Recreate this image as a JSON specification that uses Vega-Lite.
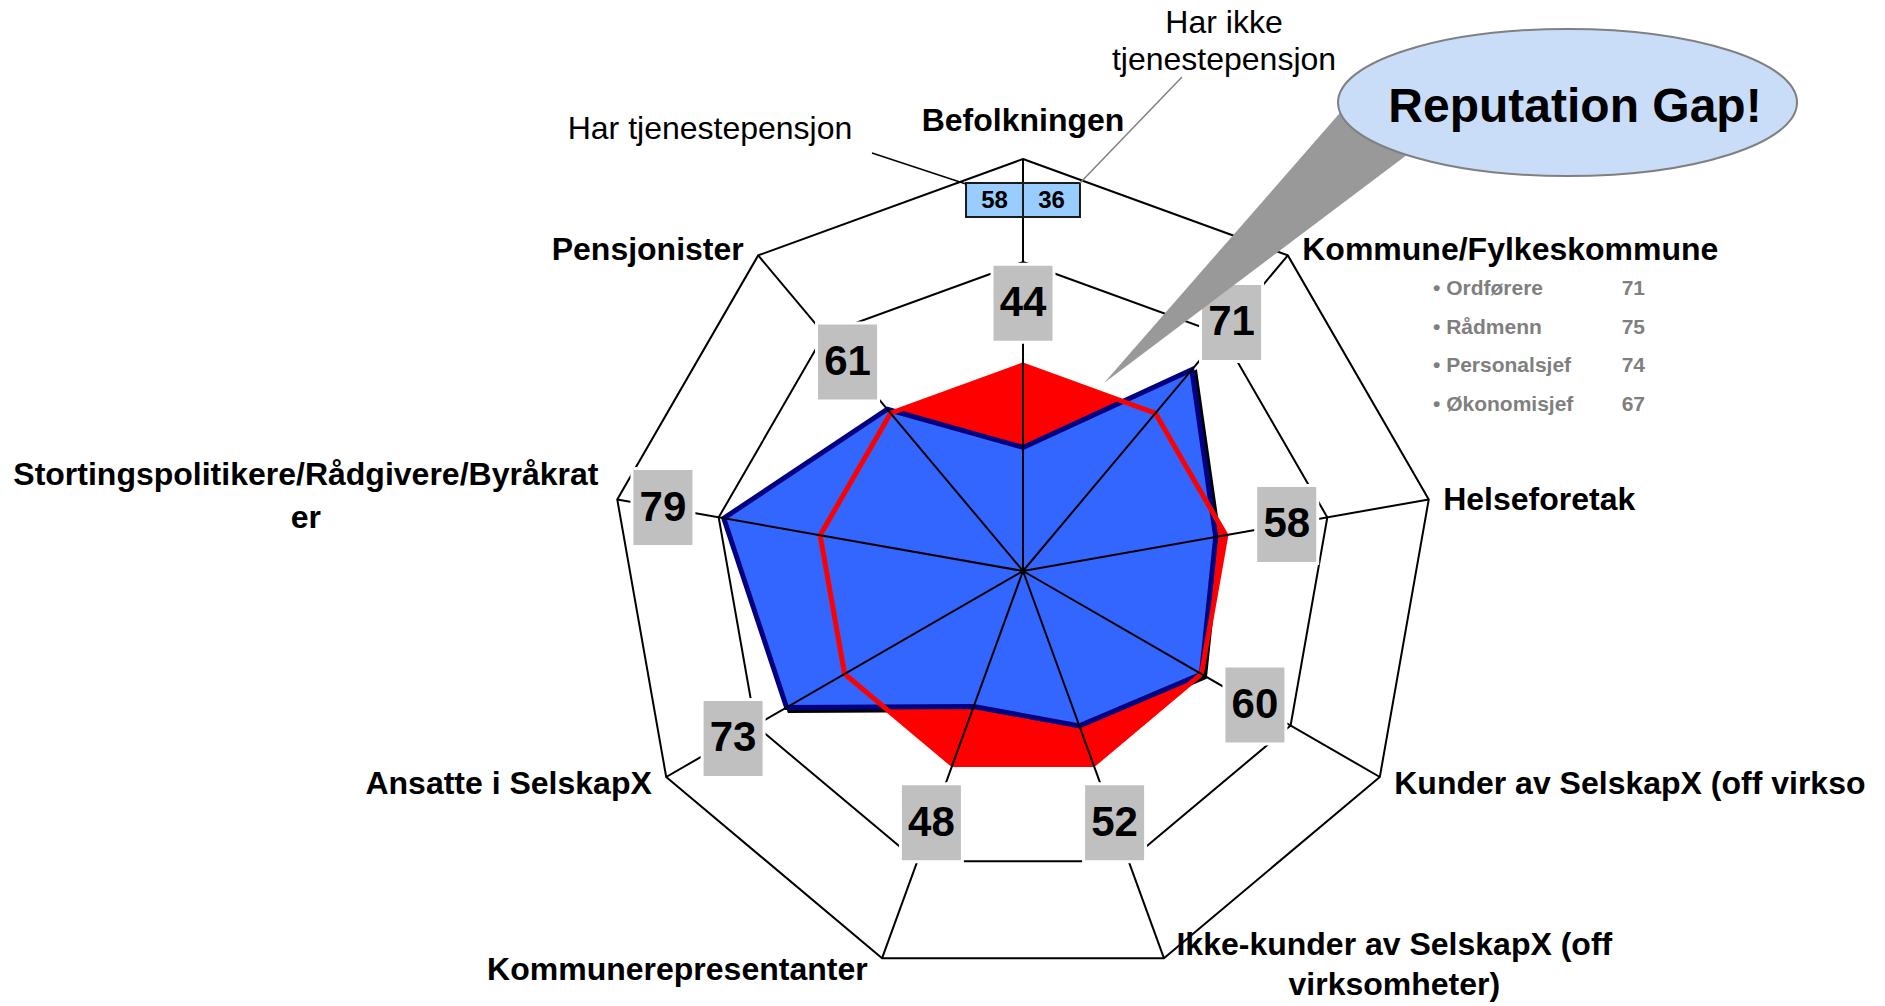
{
  "$schema": "https://vega.github.io/schema/vega-lite/v6.json",
  "width": 1885,
  "height": 1006,
  "padding": 0,
  "autosize": {"type": "none"},
  "background": "white",
  "config": {"view": {"stroke": null}},
  "data": {"values": [
    {"idx": 0, "category": "Befolkningen", "label": "Befolkningen", "value": 44, "benchmark": 60},
    {"idx": 1, "category": "Kommune/Fylkeskommune", "label": "Kommune/Fylkeskommune", "value": 71, "benchmark": 60},
    {"idx": 2, "category": "Helseforetak", "label": "Helseforetak", "value": 58, "benchmark": 60},
    {"idx": 3, "category": "Kunder av SelskapX (off virksomheter)", "label": "Kunder av SelskapX (off virkso", "value": 60, "benchmark": 60},
    {"idx": 4, "category": "Ikke-kunder av SelskapX (off virksomheter)", "label": "Ikke-kunder av SelskapX (off\nvirksomheter)", "value": 52, "benchmark": 60},
    {"idx": 5, "category": "Kommunerepresentanter", "label": "Kommunerepresentanter", "value": 48, "benchmark": 60},
    {"idx": 6, "category": "Ansatte i SelskapX", "label": "Ansatte i SelskapX", "value": 73, "benchmark": 60},
    {"idx": 7, "category": "Stortingspolitikere/Rådgivere/Byråkrater", "label": "Stortingspolitikere/Rådgivere/Byråkrat\ner", "value": 79, "benchmark": 60},
    {"idx": 8, "category": "Pensjonister", "label": "Pensjonister", "value": 61, "benchmark": 60}
  ]},
  "transform": [
    {"calculate": "datum.idx * 2 * PI / 9", "as": "a"},
    {"calculate": "(datum.value - 20) / 80", "as": "rb"},
    {"calculate": "(datum.benchmark - 20) / 80", "as": "rr"},
    {"calculate": "datum.rb * sin(datum.a)", "as": "xb"},
    {"calculate": "datum.rb * cos(datum.a)", "as": "yb"},
    {"calculate": "datum.xb + 0.0075", "as": "xs"},
    {"calculate": "datum.yb - 0.0075", "as": "ys"},
    {"calculate": "datum.rr * sin(datum.a)", "as": "xr"},
    {"calculate": "datum.rr * cos(datum.a)", "as": "yr"},
    {"calculate": "sin(datum.a)", "as": "xo"},
    {"calculate": "cos(datum.a)", "as": "yo"},
    {"calculate": "max(datum.rb, datum.rr) + 0.15", "as": "rl"},
    {"calculate": "datum.rl * sin(datum.a)", "as": "xl"},
    {"calculate": "datum.rl * cos(datum.a)", "as": "yl"},
    {"calculate": "datum.xo + (datum.xo > 0.1 ? 0.035 : (datum.xo < -0.1 ? -0.035 : 0))", "as": "lx"},
    {"calculate": "datum.yo + (datum.idx == 0 ? 0.068 : 0.024 * datum.yo - 0.006)", "as": "ly"}
  ],
  "layer": [
    {
      "data": {"values": [
        {"level": 80, "idx": 0}, {"level": 80, "idx": 1}, {"level": 80, "idx": 2}, {"level": 80, "idx": 3}, {"level": 80, "idx": 4}, {"level": 80, "idx": 5}, {"level": 80, "idx": 6}, {"level": 80, "idx": 7}, {"level": 80, "idx": 8},
        {"level": 100, "idx": 0}, {"level": 100, "idx": 1}, {"level": 100, "idx": 2}, {"level": 100, "idx": 3}, {"level": 100, "idx": 4}, {"level": 100, "idx": 5}, {"level": 100, "idx": 6}, {"level": 100, "idx": 7}, {"level": 100, "idx": 8}
      ]},
      "transform": [
        {"calculate": "datum.idx * 2 * PI / 9", "as": "a"},
        {"calculate": "(datum.level - 20) / 80", "as": "r"},
        {"calculate": "datum.r * sin(datum.a)", "as": "gx"},
        {"calculate": "datum.r * cos(datum.a)", "as": "gy"}
      ],
      "mark": {"type": "line", "interpolate": "linear-closed", "stroke": "black", "strokeWidth": 2},
      "encoding": {
        "x": {"field": "gx", "type": "quantitative", "scale": {"type": "linear", "domain": [-2.483, 2.0922], "zero": false, "nice": false}, "axis": null},
        "y": {"field": "gy", "type": "quantitative", "scale": {"type": "linear", "domain": [-1.0558, 1.3859], "zero": false, "nice": false}, "axis": null},
        "detail": {"field": "level", "type": "nominal"},
        "order": {"field": "idx", "type": "quantitative"}
      }
    },
    {
      "mark": {"type": "line", "interpolate": "linear-closed", "stroke": "black", "strokeWidth": 5},
      "encoding": {
        "x": {"field": "xs", "type": "quantitative", "scale": {"type": "linear", "domain": [-2.483, 2.0922], "zero": false, "nice": false}, "axis": null},
        "y": {"field": "ys", "type": "quantitative", "scale": {"type": "linear", "domain": [-1.0558, 1.3859], "zero": false, "nice": false}, "axis": null},
        "order": {"field": "idx", "type": "quantitative"}
      }
    },
    {
      "mark": {"type": "line", "interpolate": "linear-closed", "filled": true, "fill": "#FF0000", "stroke": "#FF0000", "strokeWidth": 1},
      "encoding": {
        "x": {"field": "xr", "type": "quantitative", "scale": {"type": "linear", "domain": [-2.483, 2.0922], "zero": false, "nice": false}, "axis": null},
        "y": {"field": "yr", "type": "quantitative", "scale": {"type": "linear", "domain": [-1.0558, 1.3859], "zero": false, "nice": false}, "axis": null},
        "order": {"field": "idx", "type": "quantitative"}
      }
    },
    {
      "mark": {"type": "line", "interpolate": "linear-closed", "filled": true, "fill": "#3366FF", "stroke": "#000080", "strokeWidth": 5},
      "encoding": {
        "x": {"field": "xb", "type": "quantitative", "scale": {"type": "linear", "domain": [-2.483, 2.0922], "zero": false, "nice": false}, "axis": null},
        "y": {"field": "yb", "type": "quantitative", "scale": {"type": "linear", "domain": [-1.0558, 1.3859], "zero": false, "nice": false}, "axis": null},
        "order": {"field": "idx", "type": "quantitative"}
      }
    },
    {
      "mark": {"type": "line", "interpolate": "linear-closed", "stroke": "#FF0000", "strokeWidth": 5},
      "encoding": {
        "x": {"field": "xr", "type": "quantitative", "scale": {"type": "linear", "domain": [-2.483, 2.0922], "zero": false, "nice": false}, "axis": null},
        "y": {"field": "yr", "type": "quantitative", "scale": {"type": "linear", "domain": [-1.0558, 1.3859], "zero": false, "nice": false}, "axis": null},
        "order": {"field": "idx", "type": "quantitative"}
      }
    },
    {
      "mark": {"type": "rule", "stroke": "black", "strokeWidth": 2},
      "encoding": {
        "x": {"field": "xo", "type": "quantitative", "scale": {"type": "linear", "domain": [-2.483, 2.0922], "zero": false, "nice": false}, "axis": null},
        "y": {"field": "yo", "type": "quantitative", "scale": {"type": "linear", "domain": [-1.0558, 1.3859], "zero": false, "nice": false}, "axis": null},
        "x2": {"datum": 0},
        "y2": {"datum": 0}
      }
    },
    {
      "mark": {"type": "point", "shape": "M -0.795 -1 L 0.795 -1 L 0.795 1 L -0.795 1 Z", "size": 6084, "filled": true, "fill": "#C0C0C0", "stroke": "white", "strokeWidth": 3, "opacity": 1},
      "encoding": {
        "x": {"field": "xl", "type": "quantitative", "scale": {"type": "linear", "domain": [-2.483, 2.0922], "zero": false, "nice": false}, "axis": null},
        "y": {"field": "yl", "type": "quantitative", "scale": {"type": "linear", "domain": [-1.0558, 1.3859], "zero": false, "nice": false}, "axis": null}
      }
    },
    {
      "mark": {"type": "text", "font": "Liberation Sans, Arial, sans-serif", "fontWeight": "bold", "fontSize": 42, "align": "center", "baseline": "middle", "color": "black"},
      "encoding": {
        "x": {"field": "xl", "type": "quantitative", "scale": {"type": "linear", "domain": [-2.483, 2.0922], "zero": false, "nice": false}, "axis": null},
        "y": {"field": "yl", "type": "quantitative", "scale": {"type": "linear", "domain": [-1.0558, 1.3859], "zero": false, "nice": false}, "axis": null},
        "text": {"field": "value", "type": "quantitative"}
      }
    },
    {
      "transform": [{"filter": "datum.idx >= 1 && datum.idx <= 3"}],
      "mark": {"type": "text", "font": "Liberation Sans, Arial, sans-serif", "fontWeight": "bold", "fontSize": 32, "align": "left", "baseline": "middle", "color": "black"},
      "encoding": {
        "x": {"field": "lx", "type": "quantitative", "scale": {"type": "linear", "domain": [-2.483, 2.0922], "zero": false, "nice": false}, "axis": null},
        "y": {"field": "ly", "type": "quantitative", "scale": {"type": "linear", "domain": [-1.0558, 1.3859], "zero": false, "nice": false}, "axis": null},
        "text": {"field": "label", "type": "nominal"}
      }
    },
    {
      "transform": [{"filter": "datum.idx == 5 || datum.idx == 6 || datum.idx == 8"}],
      "mark": {"type": "text", "font": "Liberation Sans, Arial, sans-serif", "fontWeight": "bold", "fontSize": 32, "align": "right", "baseline": "middle", "color": "black"},
      "encoding": {
        "x": {"field": "lx", "type": "quantitative", "scale": {"type": "linear", "domain": [-2.483, 2.0922], "zero": false, "nice": false}, "axis": null},
        "y": {"field": "ly", "type": "quantitative", "scale": {"type": "linear", "domain": [-1.0558, 1.3859], "zero": false, "nice": false}, "axis": null},
        "text": {"field": "label", "type": "nominal"}
      }
    },
    {
      "transform": [{"filter": "datum.idx == 0"}],
      "mark": {"type": "text", "font": "Liberation Sans, Arial, sans-serif", "fontWeight": "bold", "fontSize": 32, "align": "center", "baseline": "alphabetic", "color": "black"},
      "encoding": {
        "x": {"field": "lx", "type": "quantitative", "scale": {"type": "linear", "domain": [-2.483, 2.0922], "zero": false, "nice": false}, "axis": null},
        "y": {"field": "ly", "type": "quantitative", "scale": {"type": "linear", "domain": [-1.0558, 1.3859], "zero": false, "nice": false}, "axis": null},
        "text": {"field": "label", "type": "nominal"}
      }
    },
    {
      "transform": [{"filter": "datum.idx == 4"}],
      "mark": {"type": "text", "font": "Liberation Sans, Arial, sans-serif", "fontWeight": "bold", "fontSize": 32, "align": "center", "baseline": "middle", "color": "black", "lineBreak": "\n", "lineHeight": 40, "dx": 216, "dy": -25},
      "encoding": {
        "x": {"field": "lx", "type": "quantitative", "scale": {"type": "linear", "domain": [-2.483, 2.0922], "zero": false, "nice": false}, "axis": null},
        "y": {"field": "ly", "type": "quantitative", "scale": {"type": "linear", "domain": [-1.0558, 1.3859], "zero": false, "nice": false}, "axis": null},
        "text": {"field": "label", "type": "nominal"}
      }
    },
    {
      "transform": [{"filter": "datum.idx == 7"}],
      "mark": {"type": "text", "font": "Liberation Sans, Arial, sans-serif", "fontWeight": "bold", "fontSize": 32, "align": "center", "baseline": "middle", "color": "black", "lineBreak": "\n", "lineHeight": 43, "dx": -297, "dy": -25},
      "encoding": {
        "x": {"field": "lx", "type": "quantitative", "scale": {"type": "linear", "domain": [-2.483, 2.0922], "zero": false, "nice": false}, "axis": null},
        "y": {"field": "ly", "type": "quantitative", "scale": {"type": "linear", "domain": [-1.0558, 1.3859], "zero": false, "nice": false}, "axis": null},
        "text": {"field": "label", "type": "nominal"}
      }
    },
    {
      "data": {"values": [
        {"role": "Ordførere", "value": 71},
        {"role": "Rådmenn", "value": 75},
        {"role": "Personalsjef", "value": 74},
        {"role": "Økonomisjef", "value": 67}
      ]},
      "transform": [
        {"window": [{"op": "row_number", "as": "rn"}]},
        {"calculate": "0.670 - (datum.rn - 1) * 0.0939", "as": "ry"},
        {"calculate": "'• ' + datum.role", "as": "rlabel"}
      ],
      "layer": [
        {
          "mark": {"type": "text", "font": "Liberation Sans, Arial, sans-serif", "fontWeight": "bold", "fontSize": 21, "align": "left", "baseline": "alphabetic", "color": "#7F7F7F"},
          "encoding": {
            "x": {"datum": 0.9951, "type": "quantitative", "scale": {"type": "linear", "domain": [-2.483, 2.0922], "zero": false, "nice": false}, "axis": null},
            "y": {"field": "ry", "type": "quantitative", "scale": {"type": "linear", "domain": [-1.0558, 1.3859], "zero": false, "nice": false}, "axis": null},
            "text": {"field": "rlabel", "type": "nominal"}
          }
        },
        {
          "mark": {"type": "text", "font": "Liberation Sans, Arial, sans-serif", "fontWeight": "bold", "fontSize": 21, "align": "right", "baseline": "alphabetic", "color": "#7F7F7F"},
          "encoding": {
            "x": {"datum": 1.5097, "type": "quantitative", "scale": {"type": "linear", "domain": [-2.483, 2.0922], "zero": false, "nice": false}, "axis": null},
            "y": {"field": "ry", "type": "quantitative", "scale": {"type": "linear", "domain": [-1.0558, 1.3859], "zero": false, "nice": false}, "axis": null},
            "text": {"field": "value", "type": "quantitative"}
          }
        }
      ]
    },
    {
      "data": {"values": [
        {"group": "Har tjenestepensjon", "value": 58},
        {"group": "Har ikke tjenestepensjon", "value": 36}
      ]},
      "transform": [
        {"window": [{"op": "row_number", "as": "rn"}]},
        {"calculate": "(datum.rn - 2) * 0.1383", "as": "bx0"},
        {"calculate": "(datum.rn - 1) * 0.1383", "as": "bx1"},
        {"calculate": "(datum.rn - 1.5) * 0.1383", "as": "bxt"}
      ],
      "layer": [
        {
          "mark": {"type": "rect", "fill": "#99CCFF", "stroke": "#1A1A1A", "strokeWidth": 2},
          "encoding": {
            "x": {"field": "bx0", "type": "quantitative", "scale": {"type": "linear", "domain": [-2.483, 2.0922], "zero": false, "nice": false}, "axis": null},
            "x2": {"field": "bx1"},
            "y": {"datum": 0.9417, "type": "quantitative", "scale": {"type": "linear", "domain": [-1.0558, 1.3859], "zero": false, "nice": false}, "axis": null},
            "y2": {"datum": 0.8592}
          }
        },
        {
          "mark": {"type": "text", "font": "Liberation Sans, Arial, sans-serif", "fontWeight": "bold", "fontSize": 24, "align": "center", "baseline": "middle", "color": "black"},
          "encoding": {
            "x": {"field": "bxt", "type": "quantitative", "scale": {"type": "linear", "domain": [-2.483, 2.0922], "zero": false, "nice": false}, "axis": null},
            "y": {"datum": 0.898, "type": "quantitative", "scale": {"type": "linear", "domain": [-1.0558, 1.3859], "zero": false, "nice": false}, "axis": null},
            "text": {"field": "value", "type": "quantitative"}
          }
        }
      ]
    },
    {
      "data": {"values": [{}]},
      "layer": [
        {
          "mark": {"type": "rule", "stroke": "black", "strokeWidth": 1.5},
          "encoding": {
            "x": {"datum": -0.3665, "type": "quantitative", "scale": {"type": "linear", "domain": [-2.483, 2.0922], "zero": false, "nice": false}, "axis": null},
            "y": {"datum": 1.0146, "type": "quantitative", "scale": {"type": "linear", "domain": [-1.0558, 1.3859], "zero": false, "nice": false}, "axis": null},
            "x2": {"datum": -0.1383},
            "y2": {"datum": 0.9393}
          }
        },
        {
          "mark": {"type": "rule", "stroke": "#808080", "strokeWidth": 1.5},
          "encoding": {
            "x": {"datum": 0.1383, "type": "quantitative", "scale": {"type": "linear", "domain": [-2.483, 2.0922], "zero": false, "nice": false}, "axis": null},
            "y": {"datum": 0.9417, "type": "quantitative", "scale": {"type": "linear", "domain": [-1.0558, 1.3859], "zero": false, "nice": false}, "axis": null},
            "x2": {"datum": 0.3859},
            "y2": {"datum": 1.199}
          }
        },
        {
          "mark": {"type": "text", "text": "Har tjenestepensjon", "font": "Liberation Sans, Arial, sans-serif", "fontSize": 32, "align": "center", "baseline": "alphabetic", "color": "black"},
          "encoding": {
            "x": {"datum": -0.7597, "type": "quantitative", "scale": {"type": "linear", "domain": [-2.483, 2.0922], "zero": false, "nice": false}, "axis": null},
            "y": {"datum": 1.0485, "type": "quantitative", "scale": {"type": "linear", "domain": [-1.0558, 1.3859], "zero": false, "nice": false}, "axis": null}
          }
        },
        {
          "mark": {"type": "text", "text": ["Har ikke", "tjenestepensjon"], "font": "Liberation Sans, Arial, sans-serif", "fontSize": 32, "align": "center", "baseline": "alphabetic", "lineHeight": 37, "color": "black"},
          "encoding": {
            "x": {"datum": 0.4879, "type": "quantitative", "scale": {"type": "linear", "domain": [-2.483, 2.0922], "zero": false, "nice": false}, "axis": null},
            "y": {"datum": 1.3058, "type": "quantitative", "scale": {"type": "linear", "domain": [-1.0558, 1.3859], "zero": false, "nice": false}, "axis": null}
          }
        },
        {
          "mark": {"type": "point", "shape": "M -2.0196 1.2222 L -0.918 -0.039 L -0.6266 0.1728 Z", "size": 210681, "filled": true, "fill": "#999999", "strokeWidth": 0, "opacity": 1},
          "encoding": {
            "x": {"datum": 1.3216, "type": "quantitative", "scale": {"type": "linear", "domain": [-2.483, 2.0922], "zero": false, "nice": false}, "axis": null},
            "y": {"datum": 1.1371, "type": "quantitative", "scale": {"type": "linear", "domain": [-1.0558, 1.3859], "zero": false, "nice": false}, "axis": null}
          }
        },
        {
          "mark": {"type": "point", "shape": "M -1 0 C -1 -0.1769 -0.5523 -0.3203 0 -0.3203 C 0.5523 -0.3203 1 -0.1769 1 0 C 1 0.1769 0.5523 0.3203 0 0.3203 C -0.5523 0.3203 -1 0.1769 -1 0 Z", "size": 210681, "filled": true, "fill": "#C9DDF9", "stroke": "#808080", "strokeWidth": 2, "opacity": 1},
          "encoding": {
            "x": {"datum": 1.3216, "type": "quantitative", "scale": {"type": "linear", "domain": [-2.483, 2.0922], "zero": false, "nice": false}, "axis": null},
            "y": {"datum": 1.1371, "type": "quantitative", "scale": {"type": "linear", "domain": [-1.0558, 1.3859], "zero": false, "nice": false}, "axis": null}
          }
        },
        {
          "mark": {"type": "text", "text": "Reputation Gap!", "font": "Liberation Sans, Arial, sans-serif", "fontWeight": "bold", "fontSize": 48, "align": "center", "baseline": "alphabetic", "color": "black"},
          "encoding": {
            "x": {"datum": 1.3398, "type": "quantitative", "scale": {"type": "linear", "domain": [-2.483, 2.0922], "zero": false, "nice": false}, "axis": null},
            "y": {"datum": 1.0898, "type": "quantitative", "scale": {"type": "linear", "domain": [-1.0558, 1.3859], "zero": false, "nice": false}, "axis": null}
          }
        }
      ]
    }
  ]
}
